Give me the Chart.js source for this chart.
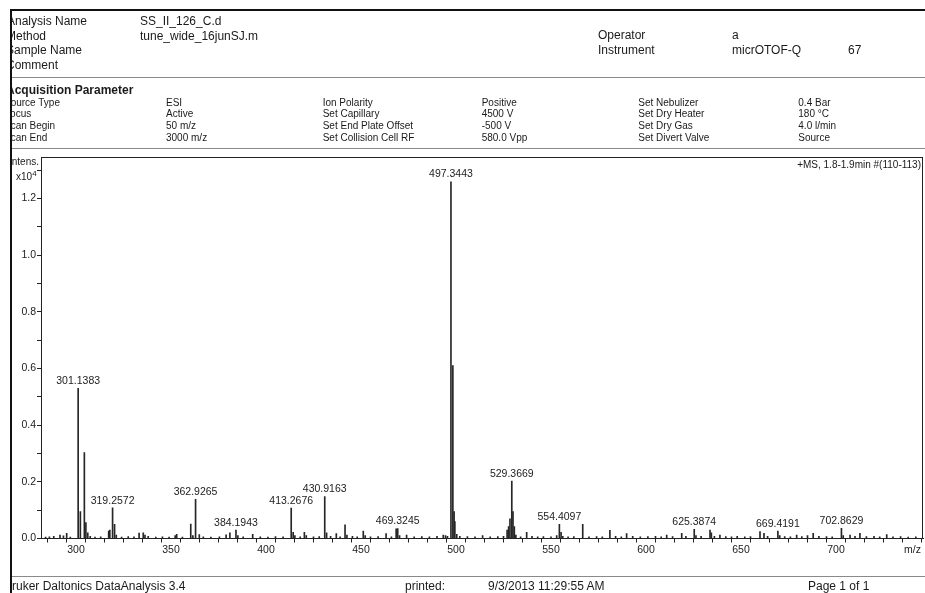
<!DOCTYPE html>
<html>
<head>
<meta charset="utf-8">
<script src="https://cdn.jsdelivr.net/npm/chart.js@4/dist/chart.umd.min.js"></script>
<style>
  html, body { margin: 0; padding: 0; background: #fff; }
  #page { position: relative; width: 925px; height: 593px; overflow: hidden; background: #fff;
          font-family: "Liberation Sans", Arial, sans-serif; color: #1a1a1a; }
  .t { position: absolute; white-space: nowrap; line-height: 1; transform: translateY(-50%); }
  .hd { font-size: 12px; }
  .pr { font-size: 10px; }
  .rule { position: absolute; left: 10px; right: 0; height: 1px; background: #8a8a8a; }
  #chart { position: absolute; left: 0; top: 0; }
  #mask { position: absolute; left: 0; top: 0; width: 10px; height: 593px; background: #fff; z-index: 5; }
  #edgeL { position: absolute; left: 10px; top: 9px; width: 2px; height: 584px; background: #111; z-index: 6; }
  #edgeT { position: absolute; left: 10px; top: 9px; right: 0; height: 2px; background: #111; z-index: 6; }
</style>
</head>
<body>
<div id="page">
  <canvas id="chart" width="925" height="593"></canvas>

  <div class="t hd" style="left:7px;top:21px">Analysis Name</div>
  <div class="t hd" style="left:140px;top:21px">SS_II_126_C.d</div>
  <div class="t hd" style="left:6px;top:35.5px">Method</div>
  <div class="t hd" style="left:140px;top:35.5px">tune_wide_16junSJ.m</div>
  <div class="t hd" style="left:6px;top:50px">Sample Name</div>
  <div class="t hd" style="left:6px;top:64.8px">Comment</div>
  <div class="t hd" style="left:598px;top:34.5px">Operator</div>
  <div class="t hd" style="left:732px;top:34.5px">a</div>
  <div class="t hd" style="left:598px;top:49.5px">Instrument</div>
  <div class="t hd" style="left:732px;top:49.5px">micrOTOF-Q</div>
  <div class="t hd" style="left:848px;top:49.5px">67</div>

  <div class="rule" style="top:77px"></div>
  <div class="t hd" style="left:6px;top:89.5px;font-weight:bold">Acquisition Parameter</div>
  <div id="params"></div>
  <div class="rule" style="top:148px"></div>

  <div class="t pr" style="left:9px;top:162px">Intens.</div>
  <div class="t pr" style="left:16px;top:176px">x10<sup style="font-size:8px;vertical-align:4px">4</sup></div>
  <div class="t pr" style="right:4px;top:165px">+MS, 1.8-1.9min #(110-113)</div>
  <div class="t" style="right:4px;top:549px;font-size:10.5px">m/z</div>

  <div class="rule" style="top:576px"></div>
  <div class="t hd" style="left:4px;top:585.5px">Bruker Daltonics DataAnalysis 3.4</div>
  <div class="t hd" style="left:405px;top:585.5px">printed:</div>
  <div class="t hd" style="left:488px;top:585.5px">9/3/2013 11:29:55 AM</div>
  <div class="t hd" style="left:808px;top:585.5px">Page 1 of 1</div>

  <div id="mask"></div>
  <div id="edgeL"></div>
  <div id="edgeT"></div>
</div>

<script>
// Acquisition parameter table: label / value pairs, three pairs per row
const paramRows = [
  ["Source Type", "ESI", "Ion Polarity", "Positive", "Set Nebulizer", "0.4 Bar"],
  ["Focus", "Active", "Set Capillary", "4500 V", "Set Dry Heater", "180 °C"],
  ["Scan Begin", "50 m/z", "Set End Plate Offset", "-500 V", "Set Dry Gas", "4.0 l/min"],
  ["Scan End", "3000 m/z", "Set Collision Cell RF", "580.0 Vpp", "Set Divert Valve", "Source"]
];

// Annotated peaks (m/z, intensity in units of 10^4 counts)
const labelledMz = [301.1383, 319.2572, 362.9265, 384.1943, 413.2676, 430.9163, 469.3245,
                    497.3443, 529.3669, 554.4097, 625.3874, 669.4191, 702.8629];
const labelledIntensity = [0.530, 0.108, 0.138, 0.030, 0.107, 0.148, 0.035,
                           1.259, 0.203, 0.050, 0.032, 0.026, 0.036];

// Remaining centroid peaks of the spectrum
const otherMz = [
  284.0, 286.0, 288.3, 291.6, 293.4, 295.1, 297.0,
  302.3, 304.4, 305.2, 306.2, 307.5, 310.0, 313.0, 317.2, 317.8, 320.3, 321.2, 324.0, 327.5,
  330.5, 333.2, 335.4, 336.3, 338.0, 342.0, 345.5, 349.0, 352.2, 353.0, 356.0, 360.4, 361.5,
  364.9, 367.0, 371.0, 375.5, 379.0, 381.0, 385.2, 388.0, 393.0, 397.0, 401.0, 405.0, 409.0,
  414.3, 415.2, 418.0, 420.2, 421.2, 425.0, 428.0, 431.9, 434.0, 437.0, 439.0, 441.6, 442.6,
  445.5, 448.0, 451.2, 452.2, 455.0, 459.0, 463.2, 466.0, 468.5, 470.3, 474.0, 478.0, 482.0,
  486.0, 490.0, 493.3, 494.5, 495.5, 498.35, 499.0, 499.4, 500.4, 502.0, 506.0, 510.0, 514.0,
  518.0, 522.0, 525.0, 526.9, 527.7, 528.4, 530.0, 530.7, 531.5, 534.0, 537.2, 540.0, 543.0,
  546.0, 550.0, 553.0, 555.3, 556.2, 559.0, 562.0, 566.7, 570.0, 574.0, 577.0, 581.0, 584.0,
  587.0, 589.8, 593.0, 597.0, 601.0, 605.0, 608.0, 610.9, 614.0, 618.8, 621.0, 626.3, 629.0,
  633.7, 634.4, 636.0, 638.9, 642.0, 645.0, 648.0, 652.0, 655.0, 660.0, 662.1, 664.0, 670.4,
  673.0, 676.0, 679.3, 682.0, 685.0, 688.0, 691.0, 695.0, 698.0, 703.8, 707.4, 710.0, 712.6,
  716.0, 720.0, 723.0, 726.7, 730.0, 734.0, 738.0, 742.0
];
const otherIntensity = [
  0.005, 0.006, 0.008, 0.012, 0.009, 0.018, 0.005,
  0.095, 0.303, 0.056, 0.020, 0.008, 0.005, 0.006, 0.026, 0.030, 0.050, 0.012, 0.005, 0.007,
  0.006, 0.019, 0.020, 0.012, 0.008, 0.005, 0.006, 0.005, 0.010, 0.015, 0.005, 0.051, 0.010,
  0.014, 0.006, 0.005, 0.006, 0.013, 0.020, 0.010, 0.006, 0.015, 0.006, 0.005, 0.007, 0.006,
  0.022, 0.010, 0.006, 0.022, 0.010, 0.006, 0.007, 0.020, 0.008, 0.017, 0.006, 0.048, 0.012,
  0.008, 0.006, 0.026, 0.010, 0.006, 0.007, 0.017, 0.006, 0.034, 0.010, 0.012, 0.006, 0.007,
  0.006, 0.008, 0.012, 0.010, 0.008, 0.610, 0.095, 0.060, 0.015, 0.008, 0.007, 0.006, 0.010,
  0.006, 0.007, 0.008, 0.030, 0.042, 0.069, 0.095, 0.042, 0.012, 0.006, 0.022, 0.008, 0.006,
  0.007, 0.006, 0.010, 0.022, 0.008, 0.006, 0.007, 0.050, 0.006, 0.007, 0.006, 0.029, 0.008,
  0.006, 0.017, 0.008, 0.006, 0.007, 0.008, 0.006, 0.012, 0.007, 0.018, 0.008, 0.010, 0.008,
  0.030, 0.020, 0.008, 0.012, 0.007, 0.006, 0.008, 0.006, 0.007, 0.024, 0.018, 0.008, 0.010,
  0.007, 0.006, 0.012, 0.007, 0.010, 0.018, 0.008, 0.007, 0.006, 0.010, 0.012, 0.008, 0.018,
  0.007, 0.008, 0.006, 0.014, 0.006, 0.007, 0.005, 0.006
];

// Axis ranges and label spacing
const mzRange = [281.58, 745.79];
const intensityRange = [0, 1.3466];
const xMinorStep = 10, xLabelStep = 50;
const yMinorStep = 0.1, yLabelStep = 0.2;

// parameter table
(function () {
  const cols = [4, 166, 322.7, 481.7, 638.3, 798.3];
  const rowsY = [102.5, 114.2, 125.9, 137.6];
  const host = document.getElementById('params');
  paramRows.forEach((row, r) => {
    row.forEach((txt, c) => {
      const d = document.createElement('div');
      d.className = 't pr';
      d.style.left = cols[c] + 'px';
      d.style.top = rowsY[r] + 'px';
      d.textContent = txt;
      host.appendChild(d);
    });
  });
})();

const sticks = labelledMz.map((m, i) => ({ x: m, y: labelledIntensity[i] }))
  .concat(otherMz.map((m, i) => ({ x: m, y: otherIntensity[i] })))
  .sort((a, b) => a.x - b.x);

const INK = '#222';
const FONT = '"Liberation Sans", Arial, sans-serif';

const peakLabels = {
  id: 'peakLabels',
  afterDatasetsDraw(chart) {
    const { ctx, scales: { x, y } } = chart;
    ctx.save();
    ctx.font = '10.5px ' + FONT;
    ctx.fillStyle = INK;
    ctx.textAlign = 'center';
    ctx.textBaseline = 'bottom';
    labelledMz.forEach((m, i) => {
      ctx.fillText(m.toFixed(4), x.getPixelForValue(m), y.getPixelForValue(labelledIntensity[i]) - 2);
    });
    ctx.restore();
  }
};

const plotFrame = {
  id: 'plotFrame',
  afterDraw(chart) {
    const { ctx, chartArea: a } = chart;
    ctx.save();
    ctx.strokeStyle = INK;
    ctx.lineWidth = 1;
    ctx.beginPath();
    ctx.moveTo(a.left, a.top + 0.5);
    ctx.lineTo(a.right, a.top + 0.5);
    ctx.moveTo(a.right - 0.5, a.top);
    ctx.lineTo(a.right - 0.5, a.bottom);
    ctx.stroke();
    ctx.restore();
  }
};

new Chart(document.getElementById('chart'), {
  type: 'bar',
  data: {
    datasets: [{
      data: sticks,
      backgroundColor: '#262626',
      borderWidth: 0,
      barThickness: 1,
      grouped: false
    }]
  },
  options: {
    responsive: false,
    animation: false,
    devicePixelRatio: 1,
    layout: { padding: { left: 0, top: 157, right: 2, bottom: 34.5 } },
    plugins: { legend: { display: false }, tooltip: { enabled: false } },
    scales: {
      x: {
        type: 'linear',
        offset: false,
        min: mzRange[0],
        max: mzRange[1],
        afterFit(s) { s.height = 20; },
        border: { display: true, color: INK, width: 1 },
        grid: { display: true, drawOnChartArea: false, drawTicks: true, tickLength: 4, color: INK },
        ticks: {
          stepSize: xMinorStep,
          includeBounds: false,
          autoSkip: false,
          maxRotation: 0,
          padding: 1,
          color: INK,
          font: { family: FONT, size: 10.5 },
          callback: (v) => (Math.round(v) % xLabelStep === 0 ? String(Math.round(v)) : '')
        }
      },
      y: {
        min: intensityRange[0],
        max: intensityRange[1],
        afterFit(s) { s.width = 41; },
        border: { display: true, color: INK, width: 1 },
        grid: { display: true, drawOnChartArea: false, drawTicks: true, tickLength: 4, color: INK },
        ticks: {
          stepSize: yMinorStep,
          includeBounds: false,
          autoSkip: false,
          padding: 1,
          color: INK,
          font: { family: FONT, size: 10.5 },
          callback: (v) => {
            const tenths = Math.round(v * 10);
            return tenths % Math.round(yLabelStep * 10) === 0 ? (tenths / 10).toFixed(1) : '';
          }
        }
      }
    }
  },
  plugins: [peakLabels, plotFrame]
});
</script>
</body>
</html>
